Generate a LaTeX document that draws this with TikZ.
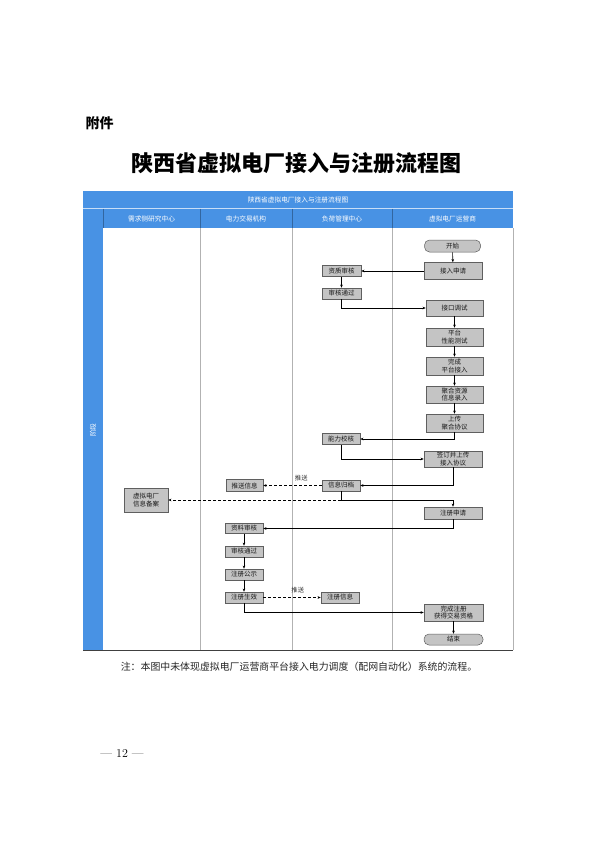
\documentclass[tikz,border=0pt]{standalone}
\usepackage{fontspec}
\newfontfamily\cjk{Noto Sans CJK SC}
\usetikzlibrary{arrows.meta}
\definecolor{laneblue}{RGB}{72,146,228}
\definecolor{boxfill}{RGB}{196,196,196}
\definecolor{boxline}{RGB}{95,95,95}
\tikzset{
  flowbox/.style={draw=boxline, line width=0.5pt, fill=boxfill, inner sep=0pt, align=center,
    font=\cjk\fontsize{6.5}{7.3}\selectfont, text=black!90},
  termbox/.style={flowbox, rounded corners=5pt},
  flowarr/.style={-{Stealth[length=3.2pt,width=2.6pt]}, line width=0.6pt, black},
  flowdash/.style={flowarr, dashed, dash pattern=on 3pt off 2pt},
  lanehead/.style={font=\cjk\fontsize{6.7}{7.5}\selectfont, text=white},
  lanetext/.style={font=\cjk\fontsize{6.3}{7.2}\selectfont, text=black!80},
}
\begin{document}
\begin{tikzpicture}[x=1pt,y=-1pt]
\useasboundingbox (0,0) rectangle (595,841);
\fill[white] (0,0) rectangle (595,841);
% page texts
\node[anchor=west, font=\cjk\bfseries\fontsize{14}{16}\selectfont] (fujian) at (82,123) {附件};
\node[font=\cjk\bfseries\fontsize{22}{24}\selectfont] (title) at (296,163) {陕西省虚拟电厂接入与注册流程图};
% table frame
\fill[laneblue] (83,191) rectangle (513,228);
\fill[laneblue] (83,191) rectangle (103,650);
\draw[white!70!laneblue, line width=0.4pt] (83,208.5) -- (513,208.5);
\foreach \xx in {103,200,292,392} \draw[laneblue!70!black, line width=0.4pt] (\xx,208.5) -- (\xx,228);
\foreach \xx in {200,292,392,513} \draw[gray!60, line width=0.5pt] (\xx,228) -- (\xx,650);
\draw[black!75, line width=1pt] (83,650) -- (513,650);
\node[lanehead] (tabtitle) at (298,199.5) {陕西省虚拟电厂接入与注册流程图};
\node[lanehead] (h1) at (151.5,218.5) {需求侧研究中心};
\node[lanehead] (h2) at (246,218.5) {电力交易机构};
\node[lanehead] (h3) at (342,218.5) {负荷管理中心};
\node[lanehead] (h4) at (452.5,218.5) {虚拟电厂运营商};
\node[lanehead, rotate=90] (stage) at (93,430) {阶段};
% nodes
\node[termbox, minimum width=56pt, minimum height=12pt] (start) at (452.5,246) {开始};
\node[flowbox, minimum width=58pt, minimum height=17pt] (apply) at (453,271) {接入申请};
\node[flowbox, minimum width=39pt, minimum height=11pt] (qual) at (341.5,271) {资质审核};
\node[flowbox, minimum width=39pt, minimum height=11pt] (pass1) at (341.5,293.5) {审核通过};
\node[flowbox, minimum width=57pt, minimum height=16pt] (iface) at (454.5,308) {接口调试};
\node[flowbox, minimum width=57pt, minimum height=18pt] (perf) at (454.5,337) {平台\\性能测试};
\node[flowbox, minimum width=57pt, minimum height=18pt] (done) at (454.5,366) {完成\\平台接入};
\node[flowbox, minimum width=57pt, minimum height=17pt] (info) at (454.5,394.5) {聚合资源\\信息录入};
\node[flowbox, minimum width=57pt, minimum height=18pt] (upload) at (454.5,423) {上传\\聚合协议};
\node[flowbox, minimum width=38pt, minimum height=11pt] (cap) at (341,439) {能力校核};
\node[flowbox, minimum width=58pt, minimum height=16pt] (sign) at (453,459) {签订并上传\\接入协议};
\node[flowbox, minimum width=38pt, minimum height=11pt] (arch) at (341,485.5) {信息归档};
\node[flowbox, minimum width=58pt, minimum height=12pt] (reg) at (453,513) {注册申请};
\node[flowbox, minimum width=37pt, minimum height=12pt] (push) at (244.5,485.5) {推送信息};
\node[flowbox, minimum width=44pt, minimum height=24pt] (record) at (146,500) {虚拟电厂\\信息备案};
\node[flowbox, minimum width=38pt, minimum height=10pt] (review) at (244,528.5) {资料审核};
\node[flowbox, minimum width=38pt, minimum height=11pt] (pass2) at (244,551.5) {审核通过};
\node[flowbox, minimum width=38pt, minimum height=11pt] (publ) at (244,574.5) {注册公示};
\node[flowbox, minimum width=38pt, minimum height=11pt] (eff) at (244,597.5) {注册生效};
\node[flowbox, minimum width=38pt, minimum height=11pt] (reginfo) at (340,597.5) {注册信息};
\node[flowbox, minimum width=59pt, minimum height=17pt] (fin) at (453.5,612.5) {完成注册\\获得交易资格};
\node[termbox, minimum width=59pt, minimum height=11pt] (end) at (453.5,639.5) {结束};
% connectors
\draw[flowarr] (start) -- (apply);
\draw[flowarr] (apply.west) -- (qual.east);
\draw[flowarr] (qual) -- (pass1);
\draw[flowarr] (pass1.south) |- (iface.west);
\draw[flowarr] (iface) -- (perf);
\draw[flowarr] (perf) -- (done);
\draw[flowarr] (done) -- (info);
\draw[flowarr] (info) -- (upload);
\draw[flowarr] (upload.south) |- (cap.east);
\draw[flowarr] (cap.south) |- (sign.west);
\draw[flowarr] (sign.south) |- (arch.east);
\draw[flowdash] (arch.west) -- node[lanetext, above=1pt, pos=0.35] (pushlbl1) {推送} (push.east);
\coordinate (split) at (arch.south |- record.east);
\draw[line width=0.6pt] (arch.south) -- (split);
\draw[flowdash] (split) -- (record.east);
\draw[flowarr] (split) -| (reg.north);
\draw[flowarr] (reg.south) |- (review.east);
\draw[flowarr] (review) -- (pass2);
\draw[flowarr] (pass2) -- (publ);
\draw[flowarr] (publ) -- (eff);
\draw[flowdash] (eff.east) -- node[lanetext, above=1pt, pos=0.6] (pushlbl2) {推送} (reginfo.west);
\draw[flowarr] (eff.south) |- (fin.west);
\draw[flowarr] (fin) -- (end);
% footnote and page number
\node[font=\cjk\fontsize{9.9}{11}\selectfont, text=black!85] (note) at (299,667) {注：本图中未体现虚拟电厂运营商平台接入电力调度（配网自动化）系统的流程。};
\node[font=\fontsize{12}{14}\selectfont] (pageno) at (122,753) {— 12 —};
\end{tikzpicture}
\end{document}
